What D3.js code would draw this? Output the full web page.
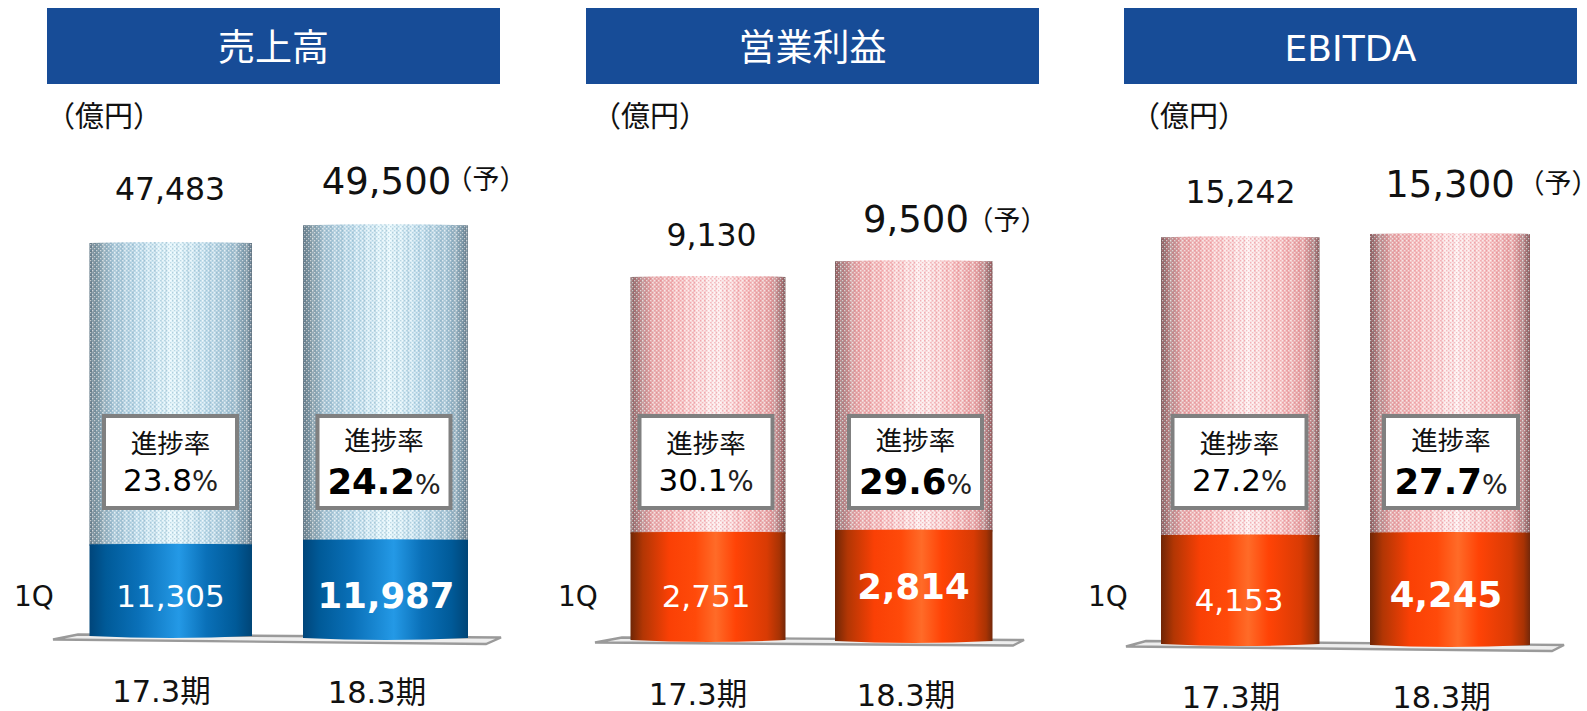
<!DOCTYPE html>
<html>
<head>
<meta charset="utf-8">
<script src="https://cdn.jsdelivr.net/npm/d3@7"></script>
<style>
html, body { margin: 0; padding: 0; background: #fff; overflow: hidden; }
text { font-family: "DejaVu Sans", "Noto Sans CJK JP", sans-serif; }
.jp { font-family: "Noto Sans CJK JP", sans-serif; }
</style>
</head>
<body>
<svg id="chart" width="1587" height="711"></svg>
<script>
// ================= data =====================//
var titles = ["売上高", "営業利益", "EBITDA"];
var categories = ["17.3期", "18.3期"];
var salesFull = [47483, 49500];
var sales1Q = [11305, 11987];
var salesRate = [23.8, 24.2];
var profitFull = [9130, 9500];
var profit1Q = [2751, 2814];
var profitRate = [30.1, 29.6];
var ebitdaFull = [15242, 15300];
var ebitda1Q = [4153, 4245];
var ebitdaRate = [27.2, 27.7];

var fullValues = [salesFull, profitFull, ebitdaFull];
var firstQuarter = [sales1Q, profit1Q, ebitda1Q];
var rates = [salesRate, profitRate, ebitdaRate];

// ================= layout, one entry per panel =====================//
var layout = [
  { header: [47, 453], unitX: 104, q1: [14, 606], kind: "blue",
    barX: [89.5, 303], barW: [162.5, 165], base: [638, 640],
    domainMax: 50000, span: [417, 420],
    boxX: [170.5, 384], boxW: 133,
    totalX: [170, 386.5], totalY: [200, 194], yoX: 486, yoY: 189,
    innerX: [170.5, 386], innerY: [607, 608],
    catX: [161.5, 377], catY: [702, 703],
    floor: [[53, 639.5], [78, 634.5], [501, 637.5], [486, 644]] },
  { header: [586, 453], unitX: 650, q1: [558, 606], kind: "red",
    barX: [630.5, 835], barW: [155, 157.5], base: [642, 643],
    domainMax: 10000, span: [401, 403],
    boxX: [706, 915.5], boxW: 133,
    totalX: [711.5, 916], totalY: [246, 232], yoX: 1007, yoY: 230,
    innerX: [706, 913.5], innerY: [607, 599],
    catX: [698, 906], catY: [705, 706],
    floor: [[595, 642.5], [622, 637.5], [1024, 640], [1013, 645.5]] },
  { header: [1124, 453], unitX: 1189, q1: [1088, 606], kind: "red",
    barX: [1161, 1370], barW: [158.5, 160], base: [646, 647],
    domainMax: 16000, span: [430, 433],
    boxX: [1239.5, 1451], boxW: 134,
    totalX: [1240.5, 1450], totalY: [203, 197], yoX: 1558, yoY: 193,
    innerX: [1239, 1446], innerY: [611, 607],
    catX: [1231, 1441.5], catY: [708, 708],
    floor: [[1126, 646.5], [1146, 641], [1564, 645], [1552, 651]] }
];

var svg = d3.select("#chart");
var defs = svg.append("defs");

function addGradient(id, stops) {
  var g = defs.append("linearGradient").attr("id", id)
    .attr("x1", "0%").attr("x2", "100%").attr("y1", "0%").attr("y2", "0%");
  stops.forEach(function(s) {
    g.append("stop").attr("offset", s[0]).attr("stop-color", s[1]);
  });
}

addGradient("blueUpper", [[0, "#5f717e"], [0.05, "#80959f"], [0.14, "#a9c6d6"], [0.3, "#c4e0ee"],
  [0.52, "#e6f8fd"], [0.72, "#c4e0ee"], [0.88, "#a6c3d3"], [0.96, "#8097a5"], [1, "#5f707e"]]);
addGradient("blueLower", [[0, "#00457a"], [0.1, "#005a98"], [0.3, "#0a70b8"], [0.55, "#2499e6"],
  [0.72, "#0a70b8"], [0.9, "#005a98"], [1, "#004577"]]);
addGradient("redUpper", [[0, "#735a5a"], [0.05, "#a58585"], [0.14, "#e4aeae"], [0.3, "#f6c6c6"],
  [0.55, "#fdf0f0"], [0.75, "#f6c6c6"], [0.9, "#e2a8a8"], [0.96, "#a88484"], [1, "#735a5a"]]);
addGradient("redLower", [[0, "#6f2606"], [0.08, "#b23604"], [0.25, "#fa4005"], [0.42, "#ff4a0a"],
  [0.55, "#ff6b28"], [0.68, "#ff4306"], [0.88, "#d83b04"], [0.96, "#a83304"], [1, "#73280a"]]);

// halftone dots that sit on the pale upper part of the cylinders
function addDots(id, dark, light) {
  var p = defs.append("pattern").attr("id", id).attr("patternUnits", "userSpaceOnUse")
    .attr("width", 4).attr("height", 4);
  p.append("rect").attr("x", 0).attr("y", 0).attr("width", 1.3).attr("height", 1.3).attr("fill", dark).attr("opacity", 0.4);
  p.append("rect").attr("x", 2).attr("y", 2).attr("width", 1.3).attr("height", 1.3).attr("fill", dark).attr("opacity", 0.4);
  p.append("rect").attr("x", 2).attr("y", 0).attr("width", 1.3).attr("height", 1.3).attr("fill", light).attr("opacity", 0.6);
  p.append("rect").attr("x", 0).attr("y", 2).attr("width", 1.3).attr("height", 1.3).attr("fill", light).attr("opacity", 0.6);
}
addDots("blueDots", "#7fa9c0", "#ffffff");
addDots("redDots", "#e8707c", "#ffffff");

// thin vertical streaks, same halftone look
function addStreaks(id, dark) {
  var p = defs.append("pattern").attr("id", id).attr("patternUnits", "userSpaceOnUse")
    .attr("width", 11).attr("height", 8);
  p.append("rect").attr("x", 0).attr("y", 0).attr("width", 2).attr("height", 8).attr("fill", dark).attr("opacity", 0.16);
  p.append("rect").attr("x", 4).attr("y", 0).attr("width", 1.5).attr("height", 8).attr("fill", "#fff").attr("opacity", 0.25);
  p.append("rect").attr("x", 7).attr("y", 0).attr("width", 1.5).attr("height", 8).attr("fill", dark).attr("opacity", 0.12);
}
addStreaks("blueStreaks", "#4f7f9c");
addStreaks("redStreaks", "#d84a58");

// top or bottom edge of a cylinder is a very flat curve
function cylinder(x0, x1, yTop, yBottom, bowTop, bowBottom) {
  var mid = (x0 + x1) / 2;
  return "M" + x0 + "," + (yTop + bowTop) +
    "Q" + mid + "," + (yTop - bowTop) + " " + x1 + "," + (yTop + bowTop) +
    "L" + x1 + "," + (yBottom - bowBottom) +
    "Q" + mid + "," + (yBottom + bowBottom) + " " + x0 + "," + (yBottom - bowBottom) + "Z";
}

var fmt = d3.format(",");
var fmtRate = d3.format(".1f");

layout.forEach(function(L, p) {
  var g = svg.append("g").attr("class", "panel" + p);

  // header band
  g.append("rect").attr("x", L.header[0]).attr("y", 8).attr("width", L.header[1]).attr("height", 76)
    .attr("fill", "#174c97");
  g.append("text").attr("class", p < 2 ? "jp" : null)
    .attr("x", L.header[0] + L.header[1] / 2).attr("y", p < 2 ? 61 : 61)
    .attr("text-anchor", "middle").attr("fill", "#fff")
    .attr("font-size", p < 2 ? 37 : 36).text(titles[p]);

  // unit
  g.append("text").attr("class", "jp").attr("x", L.unitX).attr("y", 127)
    .attr("text-anchor", "middle").attr("font-size", 29).attr("fill", "#111").text("（億円）");

  // floor under the cylinders
  g.append("path").attr("d", d3.line()(L.floor) + "Z")
    .attr("fill", "#eeeeee").attr("stroke", "#9a9a9a").attr("stroke-width", 2.4);

  // one scale per cylinder, the perspective makes them differ slightly
  var x = d3.scalePoint().domain(categories).range(L.barX);

  categories.forEach(function(cat, i) {
    var y = d3.scaleLinear().domain([0, L.domainMax]).range([L.base[i], L.base[i] - L.span[i]]);
    var x0 = x(cat), x1 = x0 + L.barW[i];
    var yFull = y(fullValues[p][i]), yQ = y(firstQuarter[p][i]);

    var upper = cylinder(x0, x1, yFull, yQ + 2, 1, 0);
    g.append("path").attr("d", upper).attr("fill", "url(#" + L.kind + "Upper)");
    g.append("path").attr("d", upper).attr("fill", "url(#" + L.kind + "Streaks)");
    g.append("path").attr("d", upper).attr("fill", "url(#" + L.kind + "Dots)");

    g.append("path").attr("d", cylinder(x0, x1, yQ, y(0), 0.5, 2))
      .attr("fill", "url(#" + L.kind + "Lower)");

    // total above the bar
    g.append("text").attr("x", L.totalX[i]).attr("y", L.totalY[i]).attr("text-anchor", "middle")
      .attr("font-size", i == 0 ? 31.5 : 37).attr("fill", "#111").text(fmt(fullValues[p][i]));

    // 1Q value inside the bar
    g.append("text").attr("x", L.innerX[i]).attr("y", L.innerY[i]).attr("text-anchor", "middle")
      .attr("font-size", i == 0 ? 31 : 35.5).attr("font-weight", i == 0 ? "normal" : "bold")
      .attr("fill", "#fff").text(fmt(firstQuarter[p][i]));

    // progress box
    g.append("rect").attr("x", L.boxX[i] - L.boxW / 2).attr("y", 416)
      .attr("width", L.boxW).attr("height", 92)
      .attr("fill", "#fff").attr("stroke", "#808080").attr("stroke-width", 4);
    g.append("text").attr("class", "jp").attr("x", L.boxX[i]).attr("y", i == 0 ? 453 : 450)
      .attr("text-anchor", "middle").attr("font-size", 26.5).attr("fill", "#111").text("進捗率");
    var rate = g.append("text").attr("x", L.boxX[i]).attr("y", i == 0 ? 491 : 494)
      .attr("text-anchor", "middle").attr("fill", "#000");
    rate.append("tspan").attr("font-size", i == 0 ? 31 : 35.5).attr("font-weight", i == 0 ? "normal" : "bold")
      .text(fmtRate(rates[p][i]));
    rate.append("tspan").attr("font-size", i == 0 ? 27.5 : 27).attr("fill", "#222").text("%");

    // category label
    g.append("text").attr("x", L.catX[i]).attr("y", L.catY[i]).attr("text-anchor", "middle")
      .attr("font-size", 30.5).attr("fill", "#111").text(cat);
  });

  // forecast mark
  g.append("text").attr("class", "jp").attr("x", L.yoX).attr("y", L.yoY).attr("text-anchor", "middle")
    .attr("font-size", 27).attr("fill", "#111").text("（予）");

  // 1Q
  g.append("text").attr("x", L.q1[0]).attr("y", L.q1[1]).attr("font-size", 28).attr("fill", "#111").text("1Q");
});
</script>
</body>
</html>
